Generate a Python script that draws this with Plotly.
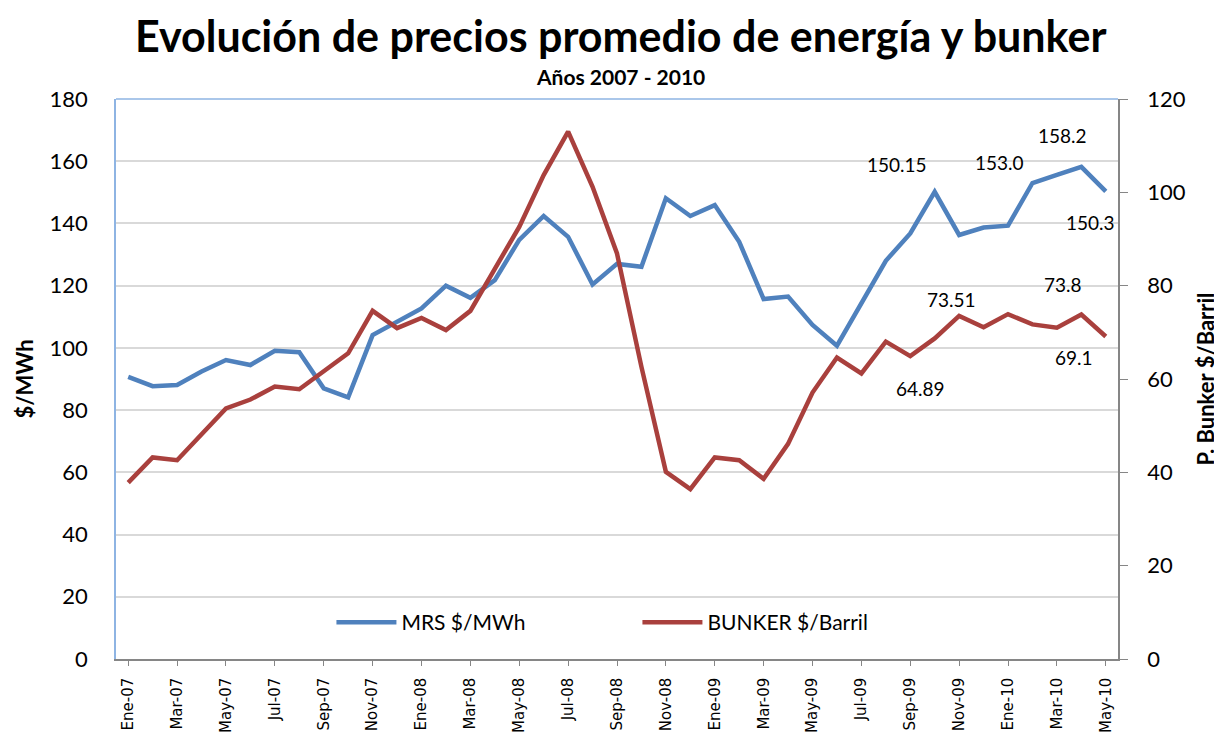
import plotly.graph_objects as go

months = ["Ene", "Feb", "Mar", "Abr", "May", "Jun", "Jul", "Ago", "Sep", "Oct", "Nov", "Dic"]
categories = [f"{m}-{y:02d}" for y in (7, 8, 9) for m in months] + \
             [f"{m}-10" for m in months[:5]]

mrs = [90.7, 87.7, 88.1, 92.4, 96.1, 94.5, 99.1, 98.6, 87.0, 84.1,
       104.1, 108.4, 112.7, 120.0, 116.1, 121.8, 134.7, 142.4, 135.7, 120.4,
       127.0, 126.1, 148.1, 142.4, 145.9, 134.1, 115.7, 116.5, 107.4, 100.7,
       114.3, 128.0, 136.8, 150.15, 136.3, 138.7, 139.3, 153.0, 155.6, 158.2,
       150.3]

bunker = [37.8, 43.2, 42.6, 48.2, 53.7, 55.6, 58.4, 57.8, 61.6, 65.5,
          74.6, 70.9, 73.1, 70.5, 74.6, 83.4, 92.6, 103.7, 113.0, 101.2,
          86.9, 62.6, 40.1, 36.4, 43.2, 42.6, 38.6, 46.1, 57.1, 64.6,
          61.2, 68.0, 64.89, 68.7, 73.51, 71.1, 73.9, 71.7, 71.0, 73.8,
          69.1]

left_ticks = list(range(0, 181, 20))
right_ticks = list(range(0, 121, 20))
x_ticks = categories[::2]

# annotated points: (series, category, label, xshift, yshift)
labels = [
    ("y", "Oct-09", "150.15", -38, 27),
    ("y", "Feb-10", "153.0", -33, 21),
    ("y", "Abr-10", "158.2", -19, 31),
    ("y", "May-10", "150.3", -15, -31),
    ("y2", "Nov-09", "73.51", -8, 16),
    ("y2", "Sep-09", "64.89", 10, -32),
    ("y2", "Abr-10", "73.8", -18, 30),
    ("y2", "May-10", "69.1", -32, -21),
]

font = "Lato, 'Open Sans', sans-serif"
tickfont_x = "'DejaVu Sans', Verdana, sans-serif"
blue = "#4f81bd"
red = "#a9403d"

fig = go.Figure()
fig.add_trace(go.Scatter(x=categories, y=mrs, name="MRS $/MWh", mode="lines",
                         line=dict(color=blue, width=4.5), yaxis="y"))
fig.add_trace(go.Scatter(x=categories, y=bunker, name="BUNKER $/Barril", mode="lines",
                         line=dict(color=red, width=4.5), yaxis="y2"))

annotations = []
for ax, cat, txt, dx, dy in labels:
    i = categories.index(cat)
    yv = mrs[i] if ax == "y" else bunker[i]
    annotations.append(dict(x=cat, y=yv, xref="x", yref=ax, text=txt, showarrow=False,
                            xshift=dx, yshift=dy, font=dict(size=19, color="#000", family=font)))

annotations.append(dict(text="<b>Evolución de precios promedio de energía y bunker</b>",
                        xref="paper", yref="paper", x=0.503, y=1.0, yanchor="bottom",
                        yshift=37, borderpad=0, showarrow=False,
                        font=dict(size=43, color="#000", family=font)))
annotations.append(dict(text="<b>Años 2007 - 2010</b>", xref="paper", yref="paper",
                        x=0.503, y=1.0, yanchor="bottom", yshift=9, borderpad=0,
                        showarrow=False, font=dict(size=21, color="#000", family=font)))

fig.update_layout(
    width=1222, height=738,
    margin=dict(l=108, r=112, t=91, b=87, autoexpand=False),
    paper_bgcolor="white", plot_bgcolor="white",
    font=dict(family=font, color="#000"),
    showlegend=True,
    legend=dict(orientation="h", x=0.215, y=0.065, xanchor="left", yanchor="middle",
                font=dict(size=21, family=font), bgcolor="rgba(0,0,0,0)",
                itemwidth=60, tracegroupgap=0, entrywidth=231),
    xaxis=dict(type="category", range=[-0.5, len(categories) - 0.5],
               tickmode="array", tickvals=x_ticks, ticktext=x_ticks, tickangle=-90,
               tickfont=dict(size=15, family=tickfont_x), showgrid=False,
               showline=True, linecolor="#868686", linewidth=1.5,
               ticks="outside", ticklen=5, tickcolor="#868686", ticklabelstandoff=6),
    yaxis=dict(range=[0, 180], tickvals=left_ticks, tickfont=dict(size=22, family=font),
               showgrid=True, gridcolor="#d9d9d9", gridwidth=1.5,
               showline=True, linecolor="#8eb4e3", linewidth=1.5, zeroline=False,
               ticks="", ticklabelstandoff=22,
               title=dict(text="<b>$/MWh</b>", font=dict(size=22, family=font), standoff=10)),
    yaxis2=dict(range=[0, 120], tickvals=right_ticks, overlaying="y", side="right",
                tickfont=dict(size=22, family=font), showgrid=False,
                showline=True, linecolor="#868686", linewidth=1.5, zeroline=False,
                ticks="outside", ticklen=8, tickcolor="#868686", ticklabelstandoff=15,
                title=dict(text="<b>P. Bunker $/Barril</b>", font=dict(size=22, family=font),
                           standoff=14)),
    shapes=[dict(type="line", xref="x domain", yref="y domain", x0=0, x1=1, y0=1, y1=1,
                 line=dict(color="#8eb4e3", width=1.5))],
    annotations=annotations,
)

fig.write_html("out.html")
